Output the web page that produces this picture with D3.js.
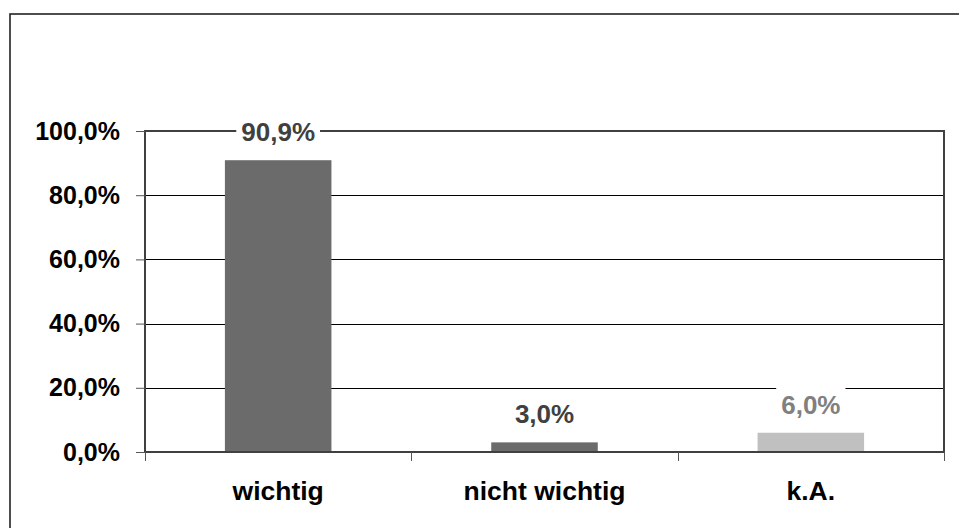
<!DOCTYPE html>
<html>
<head>
<meta charset="utf-8">
<script src="https://cdn.jsdelivr.net/npm/d3@7"></script>
<style>
  html, body { margin: 0; padding: 0; background: #fff; }
  svg { display: block; font-family: "Liberation Sans", Arial, sans-serif; }
</style>
</head>
<body>
<svg id="chart" width="959" height="528"></svg>
<script>
// Survey answers and their shares
const categories = ["wichtig", "nicht wichtig", "k.A."];
const shares = [0.909, 0.030, 0.060];
const barColors = ["#6b6b6b", "#6b6b6b", "#c0c0c0"];
const labelColors = ["#404040", "#404040", "#808080"];
const yTicks = [0, 0.2, 0.4, 0.6, 0.8, 1.0];

const de = d3.formatLocale({ decimal: ",", thousands: ".", grouping: [3], currency: ["", " €"] });
const pct = de.format(".1%");

const svg = d3.select("#chart");

// outer frame of the chart area
svg.append("rect")
  .attr("x", 10).attr("y", 14)
  .attr("width", 980).attr("height", 560)
  .attr("fill", "none").attr("stroke", "#222").attr("stroke-width", 1.6);

const plot = { left: 145, right: 944, top: 131, bottom: 452 };

const x = d3.scaleBand()
  .domain(categories)
  .range([plot.left, plot.right])
  .paddingInner(0.6)
  .paddingOuter(0.3);

const y = d3.scaleLinear()
  .domain([0, 1])
  .range([plot.bottom, plot.top]);

// horizontal gridlines
svg.append("g")
  .selectAll("line")
  .data(yTicks.filter(t => t > 0 && t < 1))
  .join("line")
  .attr("x1", plot.left).attr("x2", plot.right)
  .attr("y1", d => Math.round(y(d)) + 0.5).attr("y2", d => Math.round(y(d)) + 0.5)
  .attr("stroke", "#000").attr("stroke-width", 1);

// bars
svg.append("g")
  .selectAll("rect")
  .data(shares)
  .join("rect")
  .attr("x", (d, i) => x(categories[i]))
  .attr("width", x.bandwidth())
  .attr("y", d => y(d))
  .attr("height", d => y(0) - y(d))
  .attr("fill", (d, i) => barColors[i]);

// plot frame
svg.append("rect")
  .attr("x", plot.left).attr("y", plot.top)
  .attr("width", plot.right - plot.left).attr("height", plot.bottom - plot.top)
  .attr("fill", "none").attr("stroke", "#404040").attr("stroke-width", 2);

// y axis
const yAxis = svg.append("g")
  .attr("transform", `translate(${plot.left},0)`)
  .call(d3.axisLeft(y).tickValues(yTicks).tickFormat(pct).tickSize(9).tickPadding(16));
yAxis.select(".domain").remove();
yAxis.selectAll(".tick line").attr("stroke", "#555");
yAxis.selectAll(".tick text")
  .attr("fill", "#000")
  .attr("font-size", 25)
  .attr("font-weight", "bold")
  .attr("font-family", "'Liberation Sans', Arial, sans-serif");

// x axis tick marks at category boundaries
const bounds = categories.map(c => x(c) - x.step() * x.paddingInner() / 2).concat([plot.right]);
bounds[0] = plot.left;
svg.append("g")
  .selectAll("line")
  .data(bounds)
  .join("line")
  .attr("x1", d => Math.round(d) + 0.5).attr("x2", d => Math.round(d) + 0.5)
  .attr("y1", plot.bottom).attr("y2", plot.bottom + 9)
  .attr("stroke", "#555");

// category labels
svg.append("g")
  .selectAll("text")
  .data(categories)
  .join("text")
  .attr("x", d => x(d) + x.bandwidth() / 2)
  .attr("y", 500)
  .attr("text-anchor", "middle")
  .attr("font-size", 26.5)
  .attr("font-weight", "bold")
  .attr("fill", "#000")
  .text(d => d);

// value labels with white backing
const labels = svg.append("g")
  .selectAll("g")
  .data(shares)
  .join("g")
  .attr("transform", (d, i) => `translate(${x(categories[i]) + x.bandwidth() / 2},${y(d) - 19})`);

labels.append("text")
  .attr("text-anchor", "middle")
  .attr("font-size", 26)
  .attr("font-weight", "bold")
  .attr("fill", (d, i) => labelColors[i])
  .text(d => pct(d));

labels.each(function() {
  const g = d3.select(this);
  const bb = g.select("text").node().getBBox();
  g.insert("rect", "text")
    .attr("x", bb.x - 5).attr("y", -28)
    .attr("width", bb.width + 10).attr("height", 35)
    .attr("fill", "#fff");
});
</script>
</body>
</html>
